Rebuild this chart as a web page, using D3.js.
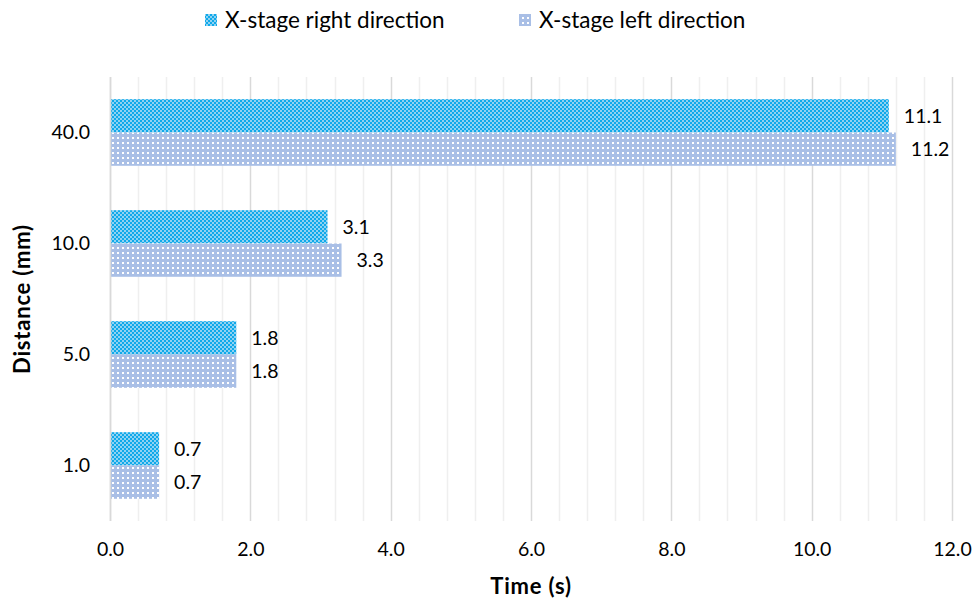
<!DOCTYPE html>
<html>
<head>
<meta charset="utf-8">
<script src="https://cdn.jsdelivr.net/npm/d3@7"></script>
<style>
  html, body { margin: 0; padding: 0; background: #fff; }
  svg { display: block; font-family: Lato, "Open Sans", sans-serif; }
</style>
</head>
<body>
<svg id="chart" width="976" height="604"></svg>
<script>
// Travel distances (top to bottom) and the time taken in each direction
const distances = ["40.0", "10.0", "5.0", "1.0"];
const rightTimes = [11.1, 3.1, 1.8, 0.7];
const leftTimes = [11.2, 3.3, 1.8, 0.7];
const seriesNames = ["X-stage right direction", "X-stage left direction"];
const xTicks = [0, 2, 4, 6, 8, 10, 12];

const svg = d3.select("#chart");
const W = 976, H = 604;
const margin = { left: 110, right: W - 952, top: 77, bottom: H - 521 };

// Hatched fills used by the two series
const defs = svg.append("defs");
const pR = defs.append("pattern").attr("id", "patRight")
  .attr("width", 4).attr("height", 4).attr("patternUnits", "userSpaceOnUse");
pR.append("rect").attr("width", 4).attr("height", 4).attr("fill", "#8fd2f2");
pR.append("rect").attr("width", 2).attr("height", 2).attr("fill", "#0fa9ea");
pR.append("rect").attr("x", 2).attr("y", 2).attr("width", 2).attr("height", 2).attr("fill", "#0fa9ea");

const pL = defs.append("pattern").attr("id", "patLeft")
  .attr("width", 5).attr("height", 5).attr("patternUnits", "userSpaceOnUse");
pL.append("rect").attr("width", 5).attr("height", 5).attr("fill", "#a9bfe6");
pL.append("rect").attr("x", 2).attr("y", 2).attr("width", 2).attr("height", 2).attr("fill", "#ffffff");

const x = d3.scaleLinear().domain([0, 12]).range([margin.left, W - margin.right]);
const y = d3.scaleBand().domain(distances).range([margin.top, H - margin.bottom]).paddingInner(0.4).paddingOuter(0.2);
const sub = d3.scaleBand().domain([0, 1]).range([0, y.bandwidth()]);

// Minor and major vertical gridlines
const minor = d3.range(0, 12.001, 0.4).filter(v => Math.abs(v / 2 - Math.round(v / 2)) > 1e-6);
svg.append("g").selectAll("line").data(minor).join("line")
  .attr("x1", d => Math.round(x(d)) + 0.5).attr("x2", d => Math.round(x(d)) + 0.5)
  .attr("y1", margin.top).attr("y2", H - margin.bottom)
  .attr("stroke", "#efefef").attr("stroke-width", 1.5);
svg.append("g").selectAll("line").data(xTicks).join("line")
  .attr("x1", d => Math.round(x(d)) + 0.5).attr("x2", d => Math.round(x(d)) + 0.5)
  .attr("y1", margin.top).attr("y2", H - margin.bottom)
  .attr("stroke", "#d9d9d9").attr("stroke-width", 1.5);

// Bars with value labels
const series = [
  { values: rightTimes, fill: "url(#patRight)" },
  { values: leftTimes, fill: "url(#patLeft)" }
];
series.forEach((s, si) => {
  const g = svg.append("g");
  g.selectAll("rect").data(distances).join("rect")
    .attr("x", x(0))
    .attr("y", (d) => y(d) + sub(si))
    .attr("width", (d, i) => x(s.values[i]) - x(0))
    .attr("height", sub.bandwidth())
    .attr("fill", s.fill);
  g.selectAll("text").data(distances).join("text")
    .attr("x", (d, i) => x(s.values[i]) + 15)
    .attr("y", (d) => y(d) + sub(si) + sub.bandwidth() / 2)
    .attr("dy", "0.35em")
    .attr("font-size", 19.5).attr("fill", "#000")
    .text((d, i) => s.values[i].toFixed(1));
});

// Left axis line
svg.append("line").attr("x1", x(0) + 0.5).attr("x2", x(0) + 0.5)
  .attr("y1", margin.top).attr("y2", H - margin.bottom)
  .attr("stroke", "#d9d9d9").attr("stroke-width", 1.5);

// Axes
const xAxis = svg.append("g").attr("transform", `translate(0,${H - margin.bottom})`)
  .call(d3.axisBottom(x).tickValues(xTicks).tickFormat(d3.format(".1f")).tickSize(0).tickPadding(21));
xAxis.select(".domain").remove();
xAxis.selectAll("text").attr("font-size", 19.5).attr("fill", "#000").attr("font-family", "Lato, sans-serif");

const yAxis = svg.append("g").attr("transform", `translate(${margin.left},0)`)
  .call(d3.axisLeft(y).tickSize(0).tickPadding(20));
yAxis.select(".domain").remove();
yAxis.selectAll("text").attr("font-size", 19.5).attr("fill", "#000").attr("font-family", "Lato, sans-serif");

// Axis titles
svg.append("text").attr("x", (x(0) + x(12)) / 2).attr("y", 594)
  .attr("text-anchor", "middle").attr("font-size", 22).attr("font-weight", "bold")
  .attr("letter-spacing", 0.8).text("Time (s)");
svg.append("text").attr("transform", `translate(30,${(margin.top + H - margin.bottom) / 2}) rotate(-90)`)
  .attr("text-anchor", "middle").attr("font-size", 22).attr("font-weight", "bold")
  .attr("letter-spacing", 0.8).text("Distance (mm)");

// Legend
const legend = [
  { name: seriesNames[0], fill: "url(#patRight)", x: 205 },
  { name: seriesNames[1], fill: "url(#patLeft)", x: 519 }
];
legend.forEach(l => {
  svg.append("rect").attr("x", l.x).attr("y", 14).attr("width", 12).attr("height", 12).attr("fill", l.fill);
  svg.append("text").attr("x", l.x + 20).attr("y", 20).attr("dy", "0.36em")
    .attr("font-size", 22.5).attr("fill", "#000").text(l.name);
});
</script>
</body>
</html>
